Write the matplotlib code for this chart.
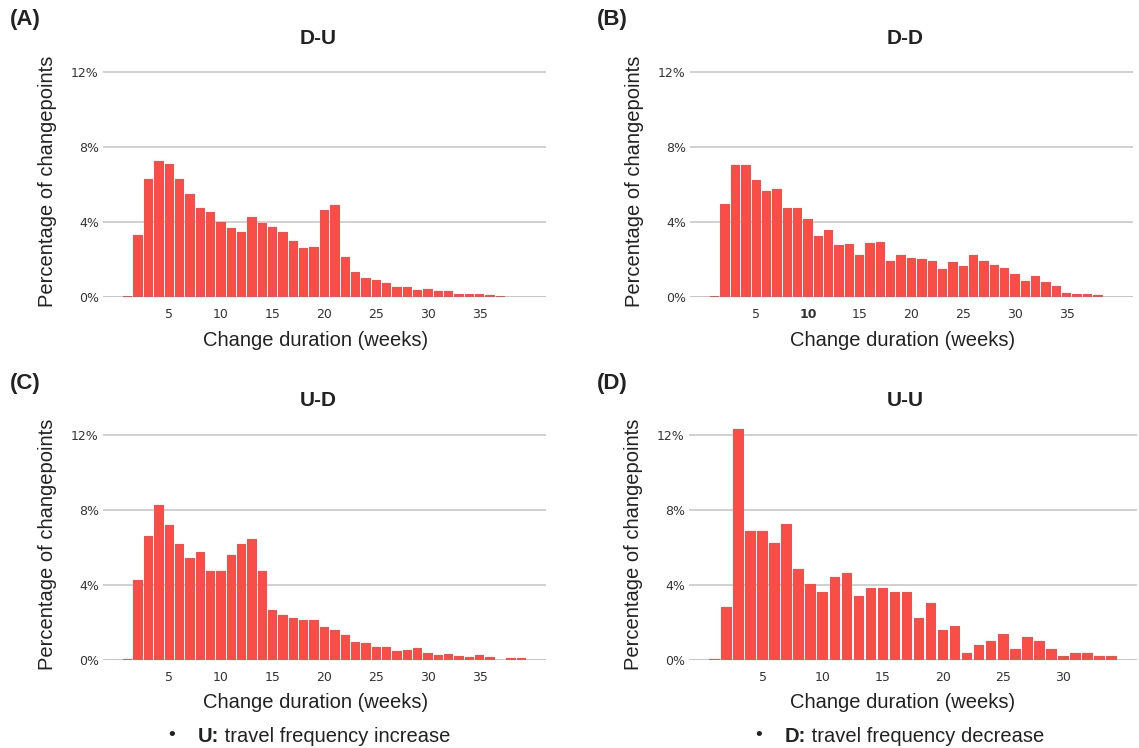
import numpy as np
import matplotlib
matplotlib.use('Agg')
import matplotlib.pyplot as plt

plt.rcParams['font.family'] = ['Liberation Sans', 'DejaVu Sans']

# percentage of changepoints per change duration (weeks)
weeks_du = list(range(1, 40))
pct_du = [0.03, 3.31, 6.29, 7.25, 7.09, 6.29, 5.49, 4.75, 4.53, 4.00,
          3.68, 3.47, 4.27, 3.95, 3.73, 3.47, 2.99, 2.61, 2.67, 4.64,
          4.91, 2.13, 1.33, 1.01, 0.91, 0.75, 0.53, 0.53, 0.37, 0.43,
          0.32, 0.32, 0.16, 0.16, 0.16, 0.11, 0.05, 0.02, 0.02]

weeks_dd = list(range(1, 40))
pct_dd = [0.03, 4.96, 7.04, 7.04, 6.24, 5.65, 5.76, 4.75, 4.75, 4.16,
          3.25, 3.57, 2.77, 2.83, 2.24, 2.88, 2.93, 1.92, 2.24, 2.08,
          2.03, 1.92, 1.49, 1.87, 1.65, 2.24, 1.92, 1.71, 1.55, 1.23,
          0.85, 1.12, 0.80, 0.59, 0.21, 0.16, 0.16, 0.11, 0.02]

weeks_ud = list(range(1, 40))
pct_ud = [0.03, 4.27, 6.61, 8.27, 7.20, 6.19, 5.44, 5.76, 4.75, 4.75,
          5.60, 6.19, 6.45, 4.75, 2.67, 2.40, 2.24, 2.13, 2.13, 1.76,
          1.60, 1.33, 0.96, 0.91, 0.69, 0.69, 0.48, 0.53, 0.64, 0.37,
          0.27, 0.32, 0.21, 0.16, 0.27, 0.16, 0.02, 0.11, 0.11]

weeks_uu = list(range(1, 35))
pct_uu = [0.03, 2.83, 12.32, 6.88, 6.88, 6.24, 7.25, 4.85, 4.05, 3.63,
          4.43, 4.64, 3.41, 3.84, 3.84, 3.63, 3.63, 2.24, 3.04, 1.60,
          1.81, 0.37, 0.80, 1.01, 1.39, 0.59, 1.23, 1.01, 0.59, 0.21,
          0.37, 0.37, 0.21, 0.21]

y_ticks = [0, 4, 8, 12]
y_ticklabels = ['0%', '4%', '8%', '12%']

W, H = 1139, 748
BAR = '#F94E48'
TXT = '#222222'
LAB = 14.5

fig = plt.figure(figsize=(W / 100, H / 100), dpi=100)


def px_axes(left, right, bottom, top):
    return fig.add_axes([left / W, 1 - bottom / H, (right - left) / W, (bottom - top) / H])


panels = [
    # (letter, title, weeks, pct, xticks, box(left,right,bottom,top), letter pos, title x)
    ('(A)', 'D-U', weeks_du, pct_du, [5, 10, 15, 20, 25, 30, 35], (103, 546, 297, 61), (10, 20), 318),
    ('(B)', 'D-D', weeks_dd, pct_dd, [5, 10, 15, 20, 25, 30, 35], (690, 1133, 297, 61), (597, 20), 905),
    ('(C)', 'U-D', weeks_ud, pct_ud, [5, 10, 15, 20, 25, 30, 35], (103, 546, 660, 424), (10, 383), 318),
    ('(D)', 'U-U', weeks_uu, pct_uu, [5, 10, 15, 20, 25, 30], (689, 1137, 660, 424), (597, 383), 905),
]

first_ax = None
for letter, title, weeks, pct, xt, box, lpos, tx in panels:
    ax = px_axes(*box)
    if first_ax is None:
        first_ax = ax
    ax.bar(weeks, pct, width=0.9, color=BAR, zorder=3)
    lo, hi = weeks[0] - 0.45, weeks[-1] + 0.45
    pad = 0.05 * (hi - lo)
    ax.set_xlim(lo - pad, hi + pad)
    ax.set_ylim(0, 12.6)
    ax.set_yticks(y_ticks)
    ax.set_yticklabels(y_ticklabels)
    ax.set_xticks(xt)
    ax.set_xticklabels([str(v) for v in xt])
    for lab in ax.get_xticklabels() + ax.get_yticklabels():
        lab.set_family('DejaVu Sans')
    for s in ax.spines.values():
        s.set_visible(False)
    ax.grid(axis='y', color='#c8c8c8', linewidth=1.2, zorder=0)
    ax.axhline(0, color='#b4b4b4', linewidth=1.2, zorder=1)
    ax.tick_params(axis='both', length=0, labelsize=9, colors='#333333')
    ax.tick_params(axis='y', pad=3)
    ax.tick_params(axis='x', pad=8)
    if title == 'D-D':
        ax.get_xticklabels()[1].set_fontweight('bold')

    left, right, bottom, top = box
    fig.text(lpos[0] / W, 1 - lpos[1] / H, letter, fontsize=16, fontweight='bold',
             color=TXT, ha='left', va='center')
    fig.text(tx / W, 1 - (top - 23) / H, title, fontsize=15, fontweight='bold',
             color=TXT, ha='center', va='center')
    fig.text((left - 55) / W, 1 - ((top + bottom) / 2 + 2) / H, 'Percentage of changepoints',
             fontsize=LAB, color=TXT, rotation=90, ha='center', va='center')
    fig.text((tx - 2) / W, 1 - (bottom + 43) / H, 'Change duration (weeks)',
             fontsize=LAB, color=TXT, ha='center', va='center')

# bottom notes
notes = [(172, 'U:', ' travel frequency increase'), (759, 'D:', ' travel frequency decrease')]
for x0, key, rest in notes:
    fig.text(x0 / W, 1 - 736 / H, '•', fontsize=14, color=TXT, ha='center', va='center')
    t = fig.text((x0 + 26) / W, 1 - 736 / H, key, fontsize=LAB, fontweight='bold',
                 color=TXT, ha='left', va='center')
    first_ax.annotate(rest, xy=(1, 0), xycoords=t, ha='left', va='bottom',
                      fontsize=LAB, color=TXT, annotation_clip=False)

fig.savefig('out.png', dpi=100)
